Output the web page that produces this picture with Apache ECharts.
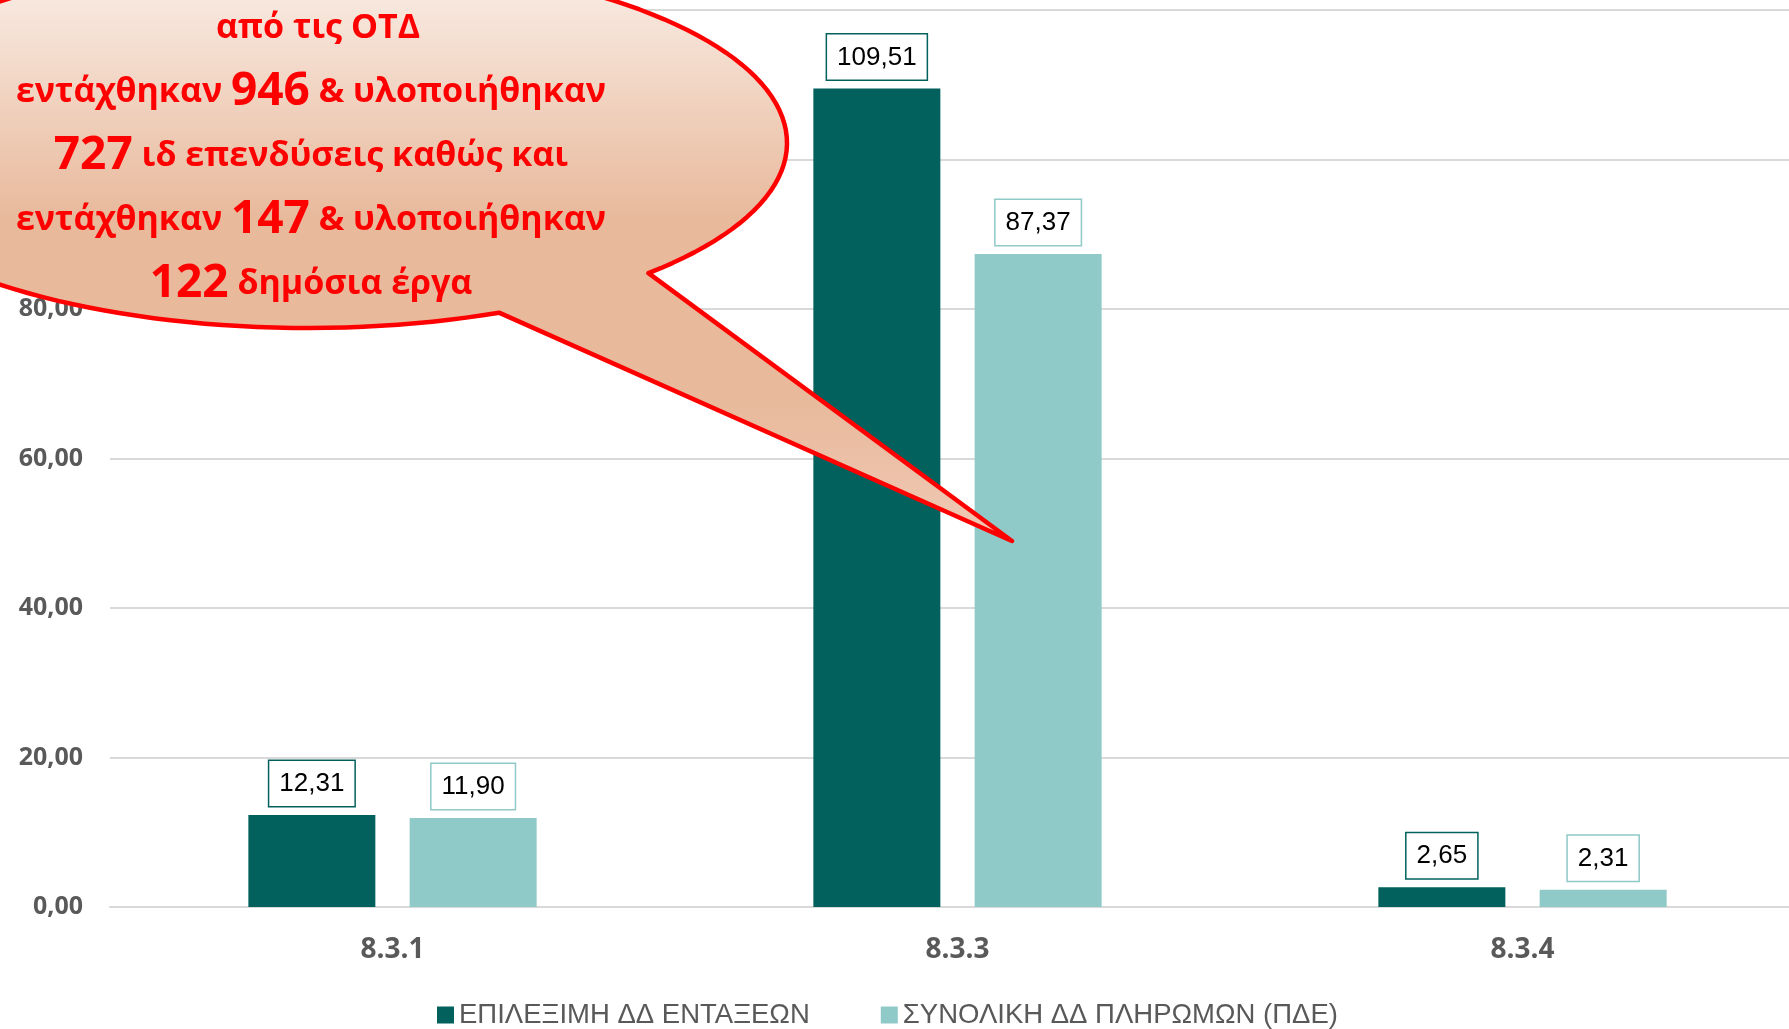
<!DOCTYPE html>
<html>
<head>
<meta charset="utf-8">
<script src="https://cdn.jsdelivr.net/npm/echarts@6/dist/echarts.min.js"></script>
<style>
html,body{margin:0;padding:0;background:#fff;}
#chart{width:1789px;height:1029px;}
</style>
</head>
<body>
<div id="chart"></div>
<script>
const categories = ['8.3.1', '8.3.3', '8.3.4'];
const seriesNames = ['ΕΠΙΛΕΞΙΜΗ ΔΔ ΕΝΤΑΞΕΩΝ', 'ΣΥΝΟΛΙΚΗ ΔΔ ΠΛΗΡΩΜΩΝ (ΠΔΕ)'];
const eligibleValues = [12.31, 109.51, 2.65];
const paymentValues = [11.90, 87.37, 2.31];
const yTicks = [0, 20, 40, 60, 80, 100, 120];
const calloutLines = [
  [['n', 'από τις ΟΤΔ']],
  [['n', 'εντάχθηκαν '], ['b', '946'], ['n', ' & υλοποιήθηκαν']],
  [['b', '727'], ['n', ' ιδ επενδύσεις καθώς και']],
  [['n', 'εντάχθηκαν '], ['b', '147'], ['n', ' & υλοποιήθηκαν']],
  [['b', '122'], ['n', ' δημόσια έργα']]
];

const DARK = '#02615D';
const LIGHT = '#8FC9C8';
const fmt = v => v.toFixed(2).replace('.', ',');

const chart = echarts.init(document.getElementById('chart'));

// callout shape (annotation)
const cx = 308, cy = 143, rx = 479, ry = 185;
const a0 = 44.7 * Math.PI / 180, a1 = (66.5 - 360) * Math.PI / 180;
const pts = [];
const N = 160;
for (let i = 0; i <= N; i++) {
  const t = a0 + (a1 - a0) * i / N;
  pts.push([cx + rx * Math.cos(t), cy + ry * Math.sin(t)]);
}
pts.push([1012, 541]);

const textEls = calloutLines.map((line, i) => ({
  type: 'text',
  x: i === 0 ? 318 : 311, y: 28 + i * 64,
  z: 101,
  style: {
    text: line.map(([k, s]) => '{' + k + '|' + s + '}').join(''),
    align: 'center',
    verticalAlign: 'middle',
    rich: {
      n: { fontFamily: 'Open Sans', fontWeight: 'bold', fontSize: 34, fill: '#FF0000', color: '#FF0000' },
      b: { fontFamily: 'Open Sans', fontWeight: 'bold', fontSize: 46, fill: '#FF0000', color: '#FF0000' }
    }
  }
}));

const labelCfg = (border) => ({
  show: true, position: 'top', distance: 9, formatter: p => fmt(p.value),
  color: '#000', fontSize: 26, fontFamily: 'Liberation Sans',
  backgroundColor: '#fff', borderColor: border, borderWidth: 1.5, padding: [10, 10, 9, 10]
});

chart.setOption({
  backgroundColor: '#fff',
  animation: false,
  grid: { left: 110, top: 10, right: -16, bottom: 122, outerBoundsMode: 'none', containLabel: false },
  legend: {
    data: seriesNames,
    left: 432,
    top: 996,
    icon: 'rect',
    itemWidth: 17,
    itemHeight: 17,
    itemGap: 71,
    textStyle: { color: '#595959', fontSize: 27.5, fontFamily: 'Liberation Sans' }
  },
  xAxis: {
    type: 'category',
    data: categories,
    axisLine: { show: true, lineStyle: { color: '#D9D9D9', width: 2 } },
    axisTick: { show: false },
    axisLabel: { color: '#595959', fontWeight: 'bold', fontSize: 28, fontFamily: 'Open Sans', margin: 29 }
  },
  yAxis: {
    type: 'value',
    min: yTicks[0],
    max: yTicks[yTicks.length - 1],
    interval: yTicks[1] - yTicks[0],
    axisLine: { show: false },
    axisTick: { show: false },
    splitLine: { lineStyle: { color: '#D9D9D9', width: 2 } },
    axisLabel: { color: '#595959', fontWeight: 'bold', fontSize: 25, fontFamily: 'Open Sans', margin: 27, formatter: fmt }
  },
  series: [
    {
      name: seriesNames[0], type: 'bar', data: eligibleValues,
      barWidth: 127, barGap: '27%',
      itemStyle: { color: DARK },
      label: labelCfg(DARK)
    },
    {
      name: seriesNames[1], type: 'bar', data: paymentValues,
      barWidth: 127,
      itemStyle: { color: LIGHT },
      label: labelCfg(LIGHT)
    }
  ],
  graphic: [
    {
      type: 'polygon',
      z: 100,
      shape: { points: pts },
      style: {
        fill: new echarts.graphic.LinearGradient(0, 0, 0, 1, [
          { offset: 0, color: '#FBF1EC' },
          { offset: 0.45, color: '#E8B99B' },
          { offset: 0.75, color: '#E8B99B' },
          { offset: 1, color: '#F0C9B5' }
        ]),
        stroke: '#FF0000',
        lineWidth: 4.5,
        lineJoin: 'round'
      }
    },
    ...textEls
  ]
});
</script>
</body>
</html>
